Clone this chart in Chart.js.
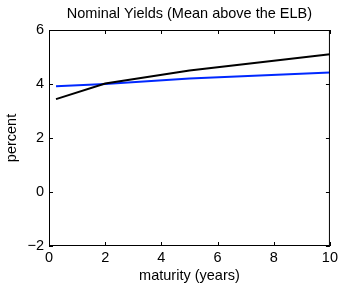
<!DOCTYPE html>
<html lang="en">
<head>
    <meta charset="UTF-8">
    <title>Nominal Yields</title>
    <script src="https://cdn.jsdelivr.net/npm/chart.js"></script>
    <style>
        html, body { margin: 0; padding: 0; background: #fff; }
        #wrap { width: 341px; height: 285px; }
    </style>
</head>
<body>
    <div id="wrap"><canvas id="yieldChart" width="341" height="285"></canvas></div>

    <script>
        // maturities in years
        const maturities = [0.25, 2, 5, 10];
        const blackYields = [3.44, 4.02, 4.5, 5.1];
        const blueYields = [3.92, 4.0, 4.2, 4.43];
        const xTicks = [0, 2, 4, 6, 8, 10];
        const yTicks = [-2, 0, 2, 4, 6];

        const FONT = 'Liberation Sans, Arial, Helvetica, sans-serif';

        const toPoints = (xs, ys) => xs.map((x, i) => ({ x: x, y: ys[i] }));

        // matlab style box with inward ticks on all sides
        const boxPlugin = {
            id: 'box',
            beforeDraw(chart) {
                // center the title over the plot area, not the canvas
                if (chart.titleBlock) {
                    chart.titleBlock.left = chart.chartArea.left;
                    chart.titleBlock.right = chart.chartArea.right;
                }
            },
            afterDatasetsDraw(chart) {
                const { ctx, chartArea: a, scales } = chart;
                ctx.save();
                ctx.strokeStyle = '#000';
                ctx.lineWidth = 1;
                ctx.strokeRect(a.left + 0.5, a.top + 0.5, a.right - a.left - 1, a.bottom - a.top - 1);
                ctx.beginPath();
                xTicks.forEach(v => {
                    const px = Math.round(scales.x.getPixelForValue(v)) + 0.5;
                    ctx.moveTo(px, a.bottom); ctx.lineTo(px, a.bottom - 4);
                    ctx.moveTo(px, a.top); ctx.lineTo(px, a.top + 4);
                });
                yTicks.forEach(v => {
                    const py = Math.round(scales.y.getPixelForValue(v)) + 0.5;
                    ctx.moveTo(a.left, py); ctx.lineTo(a.left + 4, py);
                    ctx.moveTo(a.right, py); ctx.lineTo(a.right - 4, py);
                });
                ctx.stroke();
                ctx.restore();
            }
        };

        const ctx = document.getElementById('yieldChart').getContext('2d');
        new Chart(ctx, {
            type: 'line',
            data: {
                datasets: [
                    {
                        label: 'black',
                        data: toPoints(maturities, blackYields),
                        borderColor: '#000000',
                        borderWidth: 2,
                        pointRadius: 0,
                        tension: 0
                    },
                    {
                        label: 'blue',
                        data: toPoints(maturities, blueYields),
                        borderColor: 'rgb(0, 40, 255)',
                        borderWidth: 2,
                        pointRadius: 0,
                        tension: 0
                    }
                ]
            },
            plugins: [boxPlugin],
            options: {
                responsive: false,
                animation: false,
                layout: { padding: { left: 0, right: 10, top: 0, bottom: 0 } },
                plugins: {
                    legend: { display: false },
                    tooltip: { enabled: false },
                    title: {
                        display: true,
                        text: 'Nominal Yields (Mean above the ELB)',
                        color: '#000',
                        font: { family: FONT, size: 14.5, weight: 'normal' },
                        padding: { top: 5, bottom: 7.6 }
                    }
                },
                scales: {
                    x: {
                        type: 'linear',
                        min: 0,
                        max: 10,
                        afterBuildTicks: s => { s.ticks = xTicks.map(v => ({ value: v })); },
                        afterFit: s => { s.height = 39; },
                        grid: { display: false, drawTicks: false },
                        border: { display: false },
                        ticks: {
                            color: '#000',
                            padding: 3,
                            maxRotation: 0,
                            font: { family: FONT, size: 14.5 }
                        },
                        title: {
                            display: true,
                            text: 'maturity (years)',
                            color: '#000',
                            font: { family: FONT, size: 14.5 },
                            padding: { top: 0, bottom: 0 }
                        }
                    },
                    y: {
                        min: -2,
                        max: 6,
                        afterBuildTicks: s => { s.ticks = yTicks.map(v => ({ value: v })); },
                        afterFit: s => { s.width = 49; },
                        grid: { display: false, drawTicks: false },
                        border: { display: false },
                        ticks: {
                            color: '#000',
                            padding: 5,
                            font: { family: FONT, size: 14.5 },
                            callback: v => String(v).replace('-', '\u2212')
                        },
                        title: {
                            display: true,
                            text: 'percent',
                            color: '#000',
                            font: { family: FONT, size: 14.5 },
                            padding: { top: 3.5, bottom: 0 }
                        }
                    }
                }
            }
        });
    </script>
</body>
</html>
